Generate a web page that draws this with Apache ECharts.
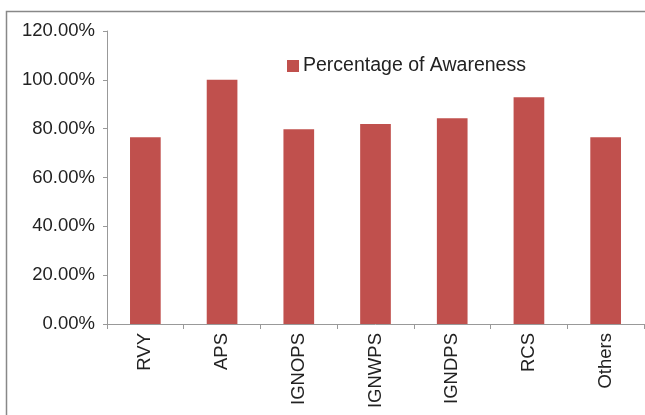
<!DOCTYPE html>
<html>
<head>
<meta charset="utf-8">
<script src="https://cdn.jsdelivr.net/npm/echarts@6/dist/echarts.min.js"></script>
<style>
html,body{margin:0;padding:0;background:#fff;}
#c{width:645px;height:415px;}
</style>
</head>
<body>
<div id="c"></div>
<script>
var categories = ["RVY", "APS", "IGNOPS", "IGNWPS", "IGNDPS", "RCS", "Others"];
var awareness = [76.5, 100, 79.8, 81.9, 84.3, 92.9, 76.5];
var seriesName = "Percentage of Awareness";

var chart = echarts.init(document.getElementById('c'), null, {renderer: 'canvas'});
var font = '"Liberation Sans", Arial, sans-serif';
chart.setOption({
  animation: false,
  backgroundColor: '#fff',
  graphic: [{
    type: 'rect',
    shape: {x: 6.5, y: 11.5, width: 700, height: 500},
    style: {fill: 'none', stroke: '#888', lineWidth: 1.5},
    silent: true
  }],
  grid: {left: 107, right: 1, top: 31, bottom: 91, containLabel: false},
  legend: {
    data: [seriesName],
    left: 282, top: 51,
    itemWidth: 12, itemHeight: 12, itemGap: 6,
    icon: 'rect',
    textStyle: {fontFamily: font, fontSize: 19.5, color: '#222', padding: [0, 0, 0, -1]}
  },
  xAxis: {
    type: 'category',
    data: categories,
    axisLine: {show: true, lineStyle: {color: '#999', width: 1}},
    axisTick: {show: true, alignWithLabel: false, length: 5, lineStyle: {color: '#999'}},
    axisLabel: {rotate: 90, margin: 9, fontFamily: font, fontSize: 18.5, color: '#222'}
  },
  yAxis: {
    type: 'value',
    min: 0, max: 120, interval: 20,
    splitLine: {show: false},
    axisLine: {show: true, lineStyle: {color: '#999', width: 1}},
    axisTick: {show: true, length: 4, lineStyle: {color: '#999'}},
    axisLabel: {
      margin: 12, fontFamily: font, fontSize: 18.5, color: '#222',
      formatter: function (v) { return v.toFixed(2) + '%'; }
    }
  },
  series: [{
    name: seriesName,
    type: 'bar',
    data: awareness,
    barWidth: '40%',
    itemStyle: {color: '#C0504D'}
  }]
});
</script>
</body>
</html>
